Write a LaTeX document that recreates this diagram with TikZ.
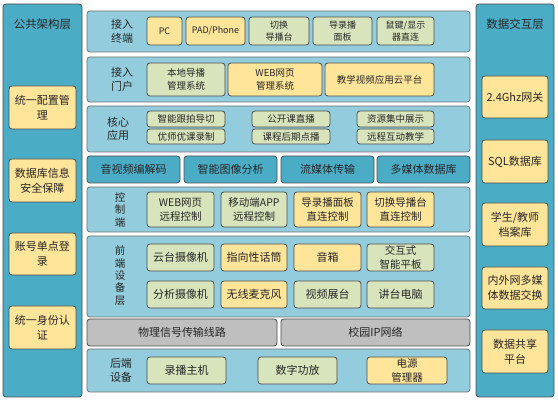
\documentclass[tikz,border=0pt]{standalone}
\usepackage{fontspec}
\newfontfamily\cjk{Noto Sans CJK SC}
\definecolor{cteal}{HTML}{4BACC6}
\definecolor{cpanel}{HTML}{93CDDD}
\definecolor{cyel}{HTML}{FFE599}
\definecolor{cgrn}{HTML}{D8E4BC}
\definecolor{cgry}{HTML}{BFBFBF}
\definecolor{cbd}{HTML}{4D4D4D}
\definecolor{ctxt}{HTML}{262626}
\newcommand\bx[7]{%
  \pgfmathsetmacro\bw{#4-#2}\pgfmathsetmacro\bh{#5-#3}%
  \node[#6, minimum width=\bw pt, minimum height=\bh pt] (#1) at ({(#2+#4)/2},{(#3+#5)/2}) {#7};}
\tikzset{
  base/.style={draw=cbd, line width=0.8pt, rounded corners=3pt, inner sep=0pt, outer sep=0pt,
    align=center, text=ctxt, font=\cjk\fontsize{11}{15}\selectfont},
  colbox/.style={base, fill=cteal},
  panel/.style={base, draw=cbd!80, fill=cpanel},
  ybox/.style={base, fill=cyel},
  gbox/.style={base, fill=cgrn},
  tbox/.style={base, fill=cteal},
  grbox/.style={base, fill=cgry},
  fa/.style={font=\cjk\fontsize{9}{12.5}\selectfont},
  fb/.style={font=\cjk\fontsize{9.5}{13}\selectfont},
  fc/.style={font=\cjk\fontsize{10.5}{14}\selectfont},
  lbl/.style={inner sep=0pt, align=center, text=ctxt, font=\cjk\fontsize{11}{13.5}\selectfont},
  vlbl/.style={inner sep=0pt, align=center, text=ctxt, font=\cjk\fontsize{10.5}{12.3}\selectfont},
  ttl/.style={inner sep=0pt, text=ctxt, font=\cjk\fontsize{11.5}{14}\selectfont},
}
\begin{document}
\begin{tikzpicture}[x=1pt,y=-1pt]
\useasboundingbox (0,0) rectangle (558,403);
\fill[white] (0,0) rectangle (558,403);
% left column
\bx{pub}{3}{4}{82}{397}{colbox}{}
\node[ttl] (pubt) at (42.5,24) {公共架构层};
\bx{p1}{9}{86}{76}{129}{ybox}{统一配置管\\理}
\bx{p2}{9}{159}{76}{202}{ybox}{数据库信息\\安全保障}
\bx{p3}{9}{233}{76}{275}{ybox}{账号单点登\\录}
\bx{p4}{9}{306}{76}{349}{ybox}{统一身份认\\证}
% right column
\bx{dat}{476}{4}{554}{397}{colbox}{}
\node[ttl] (datt) at (515,24) {数据交互层};
\bx{d1}{482}{76}{548}{118}{ybox}{2.4Ghz网关}
\bx{d2}{482}{140}{548}{183}{ybox}{SQL数据库}
\bx{d3}{482}{203}{548}{246}{ybox}{学生/教师\\档案库}
\bx{d4}{482}{267}{548}{309}{ybox}{内外网多媒\\体数据交换}
\bx{d5}{482}{330}{548}{373}{ybox}{数据共享\\平台}
% row 1
\bx{r1}{87}{11}{470}{52}{panel}{}
\node[lbl] (r1l) at (122,31.5) {接入\\终端};
\bx{a1}{147}{17}{182}{45}{ybox,fa}{PC}
\bx{a2}{186}{17}{245}{45}{ybox,fa}{PAD/Phone}
\bx{a3}{249}{17}{309}{45}{gbox,fa}{切换\\导播台}
\bx{a4}{313}{17}{372}{45}{gbox,fa}{导录播\\面板}
\bx{a5}{377}{17}{434}{45}{gbox,fa}{鼠键/显示\\器直连}
% row 2
\bx{r2}{87}{57}{470}{102}{panel}{}
\node[lbl] (r2l) at (122,79.5) {接入\\门户};
\bx{b1}{147}{63}{225}{96}{gbox,fb}{本地导播\\管理系统}
\bx{b2}{228}{63}{322}{96}{ybox,fb}{WEB网页\\管理系统}
\bx{b3}{325}{63}{434}{96}{ybox,fb}{教学视频应用云平台}
% row 3
\bx{r3}{87}{106}{470}{152}{panel}{}
\node[lbl] (r3l) at (118,129) {核心\\应用};
\bx{c1}{147}{111}{225}{127}{gbox,fb}{智能跟拍导切}
\bx{c2}{252}{111}{330}{127}{gbox,fb}{公开课直播}
\bx{c3}{357}{111}{434}{127}{gbox,fb}{资源集中展示}
\bx{c4}{147}{129}{225}{144}{gbox,fb}{优师优课录制}
\bx{c5}{252}{129}{330}{144}{gbox,fb}{课程后期点播}
\bx{c6}{357}{129}{434}{144}{gbox,fb}{远程互动教学}
% row 4
\bx{e1}{87}{156}{180}{183}{tbox}{音视频编解码}
\bx{e2}{184}{156}{277}{183}{tbox}{智能图像分析}
\bx{e3}{281}{156}{374}{183}{tbox}{流媒体传输}
\bx{e4}{377}{156}{470}{183}{tbox}{多媒体数据库}
% row 5
\bx{r5}{87}{187}{470}{232}{panel}{}
\node[vlbl] (r5l) at (120,210) {控\\制\\端};
\bx{f1}{147}{192}{214}{227}{gbox,fc}{WEB网页\\远程控制}
\bx{f2}{221}{192}{287}{227}{gbox,fc}{移动端APP\\远程控制}
\bx{f3}{294}{192}{361}{227}{ybox,fc}{导录播面板\\直连控制}
\bx{f4}{367}{192}{434}{227}{ybox,fc}{切换导播台\\直连控制}
% row 6
\bx{r6}{87}{236}{470}{317}{panel}{}
\node[vlbl] (r6l) at (120,275.5) {前\\端\\设\\备\\层};
\bx{g1}{147}{244}{214}{271}{gbox}{云台摄像机}
\bx{g2}{221}{244}{287}{271}{ybox}{指向性话筒}
\bx{g3}{294}{244}{361}{271}{ybox}{音箱}
\bx{g4}{367}{244}{434}{271}{gbox,fc}{交互式\\智能平板}
\bx{g5}{147}{281}{214}{308}{gbox}{分析摄像机}
\bx{g6}{221}{281}{287}{308}{ybox}{无线麦克风}
\bx{g7}{294}{281}{361}{308}{gbox}{视频展台}
\bx{g8}{367}{281}{434}{308}{gbox}{讲台电脑}
% row 7
\bx{h1}{87}{319}{277}{346}{grbox}{物理信号传输线路}
\bx{h2}{281}{319}{470}{346}{grbox}{校园IP网络}
% row 8
\bx{r8}{87}{349}{470}{392}{panel}{}
\node[lbl] (r8l) at (121,370.5) {后端\\设备};
\bx{k1}{147}{357}{226}{384}{gbox}{录播主机}
\bx{k2}{258}{357}{337}{384}{gbox}{数字功放}
\bx{k3}{367}{357}{447}{384}{ybox,fc}{电源\\管理器}
\end{tikzpicture}
\end{document}
